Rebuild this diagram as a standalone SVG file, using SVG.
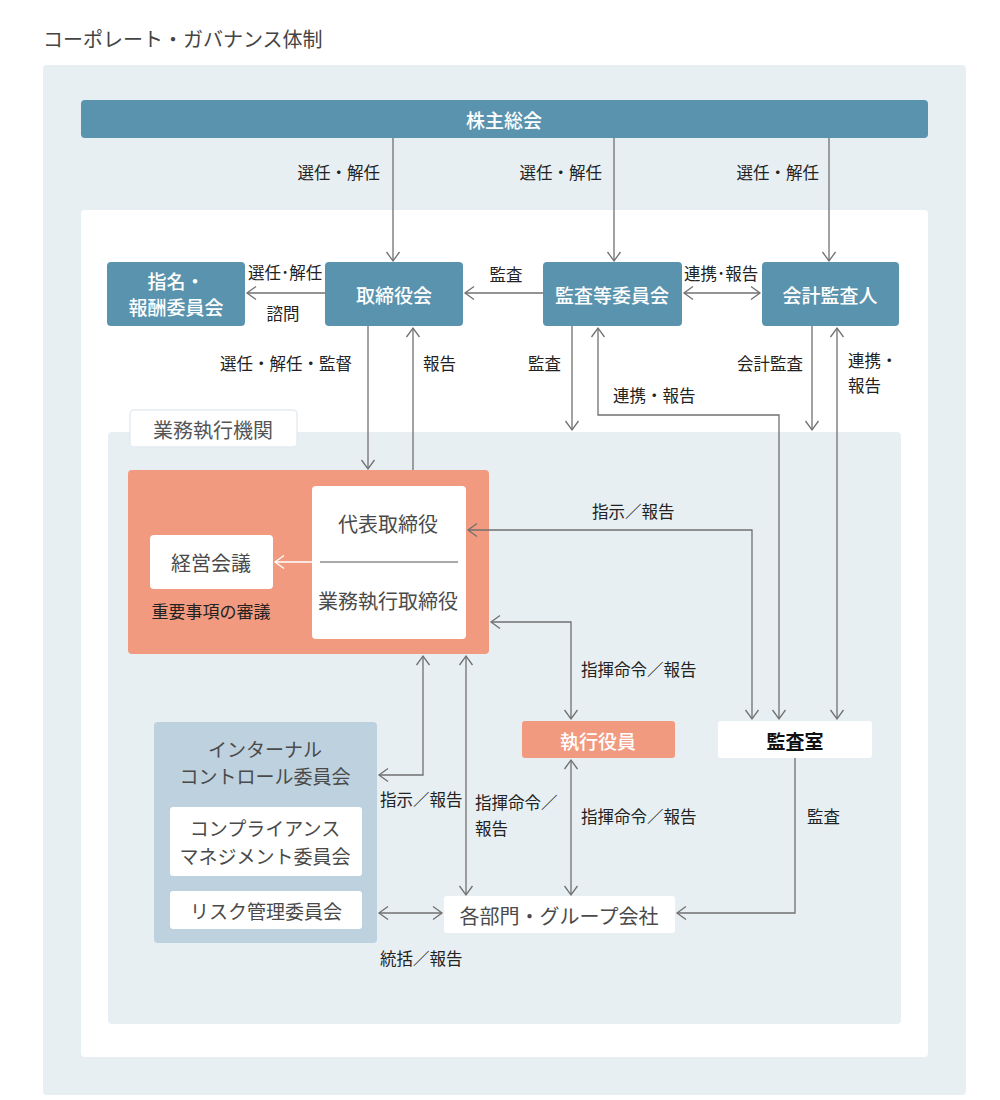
<svg xmlns="http://www.w3.org/2000/svg" width="1000" height="1100" viewBox="0 0 1000 1100">
<style>
text{font-family:"Noto Sans CJK JP","Noto Sans",sans-serif;dominant-baseline:central}
.title{font-size:20px;fill:#444}
.nb{fill:#5a93ae}
.nt{font-size:19px;fill:#fff;font-weight:500;text-anchor:middle}
.wt{font-size:20px;fill:#4a4a4a;text-anchor:middle}
.lb{font-size:16.5px;fill:#222}
.ln{fill:none;stroke:#707070;stroke-width:1.3}
</style>
<defs>
<marker id="ah" viewBox="-11 -8 13 16" refX="0" refY="0" markerWidth="13" markerHeight="16" markerUnits="userSpaceOnUse" orient="auto-start-reverse">
<path d="M-9,-6.5 L0,0 L-9,6.5" fill="none" stroke="#707070" stroke-width="1.3"/>
</marker>
<marker id="aw" viewBox="-11 -8 13 16" refX="0" refY="0" markerWidth="13" markerHeight="16" markerUnits="userSpaceOnUse" orient="auto-start-reverse">
<path d="M-9,-6.5 L0,0 L-9,6.5" fill="none" stroke="#fff" stroke-width="1.3"/>
</marker>
</defs>
<rect width="1000" height="1100" fill="#fff"/>
<text class="title" x="43" y="38">コーポレート・ガバナンス体制</text>
<rect x="43" y="65" width="923" height="1030" rx="4" fill="#e8eff3"/>
<rect x="81" y="210" width="847" height="847" rx="4" fill="#fff"/>
<g id="exec-area">
<rect x="108" y="432" width="793" height="592" rx="4" fill="#e8eff3"/>
<rect x="130" y="410" width="167" height="37" rx="4" fill="#fff" stroke="#e3ecf1" stroke-width="1.5"/>
<text x="213" y="429" font-size="20" fill="#555" text-anchor="middle">業務執行機関</text>
</g>
<g id="labels">
<text class="lb" x="380" y="172" text-anchor="end">選任・解任</text>
<text class="lb" x="602" y="172" text-anchor="end">選任・解任</text>
<text class="lb" x="819" y="172" text-anchor="end">選任・解任</text>
<text class="lb" x="248" y="272">選任･解任</text>
<text class="lb" x="283" y="313" text-anchor="middle">諮問</text>
<text class="lb" x="506" y="274" text-anchor="middle">監査</text>
<text class="lb" x="721" y="273" text-anchor="middle">連携･報告</text>
<text class="lb" x="352" y="363" text-anchor="end">選任・解任・監督</text>
<text class="lb" x="423" y="363">報告</text>
<text class="lb" x="528" y="363">監査</text>
<text class="lb" x="803" y="363" text-anchor="end">会計監査</text>
<text class="lb" x="848" y="360">連携・</text>
<text class="lb" x="848" y="385">報告</text>
<text class="lb" x="613" y="395">連携・報告</text>
<text class="lb" x="592" y="511">指示／報告</text>
<text class="lb" x="581" y="669">指揮命令／報告</text>
<text class="lb" x="380" y="799">指示／報告</text>
<text class="lb" x="475" y="802">指揮命令／</text>
<text class="lb" x="475" y="828">報告</text>
<text class="lb" x="581" y="816">指揮命令／報告</text>
<text class="lb" x="807" y="816">監査</text>
<text class="lb" x="380" y="958">統括／報告</text>
</g>
<g id="shareholders">
<rect class="nb" x="81" y="100" width="847" height="38" rx="4"/>
<text class="nt" x="504" y="119">株主総会</text>
</g>
<g id="nomination">
<rect class="nb" x="107" y="262" width="138" height="64" rx="4"/>
<text class="nt" x="176" y="280">指名・</text>
<text class="nt" x="176" y="306">報酬委員会</text>
</g>
<g id="board">
<rect class="nb" x="325" y="262" width="138" height="64" rx="4"/>
<text class="nt" x="394" y="294">取締役会</text>
</g>
<g id="audit-committee">
<rect class="nb" x="543" y="262" width="139" height="64" rx="4"/>
<text class="nt" x="612" y="294">監査等委員会</text>
</g>
<g id="accounting-auditor">
<rect class="nb" x="762" y="262" width="137" height="64" rx="4"/>
<text class="nt" x="830" y="294">会計監査人</text>
</g>
<g id="executive">
<rect x="128" y="470" width="361" height="184" rx="4" fill="#f19a80"/>
<rect x="312" y="486" width="154" height="153" rx="4" fill="#fff"/>
<text class="wt" x="388" y="523">代表取締役</text>
<line x1="320" y1="562" x2="458" y2="562" stroke="#555" stroke-width="1"/>
<text class="wt" x="388" y="600">業務執行取締役</text>
<path d="M312,562 H275" fill="none" stroke="#fff" stroke-width="1.3" marker-end="url(#aw)"/>
</g>
<g id="management-meeting">
<rect x="150" y="535" width="123" height="54" rx="4" fill="#fff"/>
<text class="wt" x="211" y="562">経営会議</text>
<text x="211" y="610" font-size="17" fill="#222" text-anchor="middle">重要事項の審議</text>
</g>
<g id="executive-officers">
<rect x="522" y="721" width="153" height="37" rx="3" fill="#f19a80"/>
<text class="nt" x="598" y="740">執行役員</text>
</g>
<g id="audit-office">
<rect x="718" y="721" width="154" height="37" rx="3" fill="#fff"/>
<text x="795" y="740" font-size="19" font-weight="700" fill="#111" text-anchor="middle">監査室</text>
</g>
<g id="internal-control">
<rect x="154" y="722" width="223" height="221" rx="4" fill="#bdd1de"/>
<text class="wt" x="265" y="748" style="font-size:19px">インターナル</text>
<text class="wt" x="265" y="775" style="font-size:19px">コントロール委員会</text>
<rect x="170" y="807" width="192" height="69" rx="3" fill="#fff"/>
<text class="wt" x="265" y="827" style="font-size:19px">コンプライアンス</text>
<text class="wt" x="265" y="855" style="font-size:19px">マネジメント委員会</text>
<rect x="170" y="891" width="192" height="38" rx="3" fill="#fff"/>
<text class="wt" x="266" y="910" style="font-size:19px">リスク管理委員会</text>
</g>
<g id="departments">
<rect x="444" y="896" width="231" height="37" rx="3" fill="#fff"/>
<text class="wt" x="559" y="915">各部門・グループ会社</text>
</g>
<g id="connectors">
<path class="ln" d="M393,138 V261" marker-end="url(#ah)"/>
<path class="ln" d="M614,138 V261" marker-end="url(#ah)"/>
<path class="ln" d="M829,138 V261" marker-end="url(#ah)"/>
<path class="ln" d="M325,293 H247" marker-end="url(#ah)"/>
<path class="ln" d="M543,293 H465" marker-end="url(#ah)"/>
<path class="ln" d="M684,293 H760" marker-start="url(#ah)" marker-end="url(#ah)"/>
<path class="ln" d="M368,326 V469" marker-end="url(#ah)"/>
<path class="ln" d="M413,470 V328" marker-end="url(#ah)"/>
<path class="ln" d="M572,326 V430" marker-end="url(#ah)"/>
<path class="ln" d="M598,328 V415 H779 V719" marker-start="url(#ah)" marker-end="url(#ah)"/>
<path class="ln" d="M812,326 V430" marker-end="url(#ah)"/>
<path class="ln" d="M837,328 V719" marker-start="url(#ah)" marker-end="url(#ah)"/>
<path class="ln" d="M752,719 V530 H468" marker-start="url(#ah)" marker-end="url(#ah)"/>
<path class="ln" d="M491,622 H571 V719" marker-start="url(#ah)" marker-end="url(#ah)"/>
<path class="ln" d="M423,656 V775 H379" marker-start="url(#ah)" marker-end="url(#ah)"/>
<path class="ln" d="M466,656 V895" marker-start="url(#ah)" marker-end="url(#ah)"/>
<path class="ln" d="M571,760 V895" marker-start="url(#ah)" marker-end="url(#ah)"/>
<path class="ln" d="M795,758 V913 H677" marker-end="url(#ah)"/>
<path class="ln" d="M379,913 H442" marker-start="url(#ah)" marker-end="url(#ah)"/>
</g>
</svg>
